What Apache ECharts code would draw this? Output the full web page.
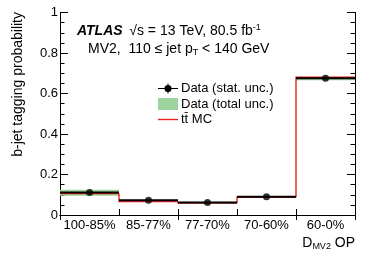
<!DOCTYPE html>
<html>
<head>
<meta charset="utf-8">
<script src="https://cdn.jsdelivr.net/npm/echarts@6/dist/echarts.min.js"></script>
<style>
html,body{margin:0;padding:0;background:#fff;}
#c{width:374px;height:256px;}
</style>
</head>
<body>
<div id="c"></div>
<script>
// ---- data ----
var categories = ['100-85%', '85-77%', '77-70%', '70-60%', '60-0%'];
var dataValues = [0.111, 0.073, 0.062, 0.090, 0.675];
var statErr = [0.003, 0.002, 0.002, 0.002, 0.004];
var totLow = [0.095, 0.068, 0.058, 0.086, 0.665];
var totHigh = [0.125, 0.075, 0.065, 0.093, 0.683];
var mcValues = [0.106, 0.067, 0.059, 0.088, 0.680];
var yTicks = [0, 0.2, 0.4, 0.6, 0.8, 1];

var FONT = '"Liberation Sans", Arial, Helvetica, sans-serif';
var chart = echarts.init(document.getElementById('c'), null, {renderer: 'canvas'});

var bandData = categories.map(function (c, i) { return [i, totLow[i], totHigh[i]]; });
var mcData = categories.map(function (c, i) { return [i, mcValues[i], i > 0 ? mcValues[i - 1] : mcValues[i]]; });
var barData = categories.map(function (c, i) { return [i, dataValues[i], dataValues[i] - statErr[i], dataValues[i] + statErr[i]]; });
var ptData = categories.map(function (c, i) { return [i, dataValues[i]]; });

var axisText = {color: '#000', fontFamily: FONT, fontSize: 13};

var option = {
  animation: false,
  backgroundColor: '#fff',
  grid: {left: 60, right: 19, top: 12.5, bottom: 41, containLabel: false},
  xAxis: [{
    type: 'category', data: categories, position: 'bottom', boundaryGap: true,
    axisLine: {show: true, lineStyle: {color: '#000', width: 1}},
    axisTick: {show: true, inside: true, length: 6, lineStyle: {color: '#000'}},
    axisLabel: Object.assign({margin: 4, interval: 0, hideOverlap: false}, axisText),
    splitLine: {show: false}
  }, {
    type: 'category', data: categories, position: 'top', boundaryGap: true,
    axisLine: {show: true, lineStyle: {color: '#000', width: 1}},
    axisTick: {show: true, inside: true, length: 5, lineStyle: {color: '#000'}},
    axisLabel: {show: false},
    splitLine: {show: false}
  }],
  yAxis: [{
    type: 'value', min: 0, max: 1, interval: 0.2, position: 'left',
    axisLine: {show: true, lineStyle: {color: '#000', width: 1}},
    axisTick: {show: true, inside: true, length: 8, lineStyle: {color: '#000'}},
    minorTick: {show: true, splitNumber: 4, length: 4.5, lineStyle: {color: '#000'}},
    axisLabel: Object.assign({margin: 2, formatter: function (v) {
      return (v === 0 || v === 1) ? String(v) : v.toFixed(1);
    }}, axisText),
    splitLine: {show: false}
  }, {
    type: 'value', min: 0, max: 1, interval: 0.2, position: 'right',
    axisLine: {show: true, lineStyle: {color: '#000', width: 1}},
    axisTick: {show: true, inside: true, length: 8, lineStyle: {color: '#000'}},
    minorTick: {show: true, splitNumber: 4, length: 4.5, lineStyle: {color: '#000'}},
    axisLabel: {show: false},
    splitLine: {show: false}
  }],
  legend: {
    orient: 'vertical', left: 153, top: 77, itemWidth: 20, itemHeight: 12, itemGap: 2.5,
    textStyle: {color: '#000', fontFamily: FONT, fontSize: 13, padding: [0, 0, 0, -2]},
    data: [
      {name: 'Data (stat. unc.)', icon: 'path://M0,5.5h20v1h-20z M9.5,1h1v10h-1z M13.5,6A3.5,3.5 0 1,1 6.5,6A3.5,3.5 0 1,1 13.5,6z', itemStyle: {color: '#000'}},
      {name: 'Data (total unc.)', icon: 'rect', itemStyle: {color: '#9dd49d'}},
      {name: 't\u0074\u0304 MC', icon: 'path://M0,0h20v1.4h-20z', itemStyle: {color: '#e8231e'}}
    ]
  },
  series: [{
    name: 'Data (total unc.)', type: 'custom', z: 1,
    data: bandData, encode: {x: 0, y: [1, 2]},
    itemStyle: {color: '#9dd49d'},
    renderItem: function (params, api) {
      var i = api.value(0);
      var w = api.size([1, 0])[0];
      var top = api.coord([i, api.value(2)]);
      var bot = api.coord([i, api.value(1)]);
      return {type: 'rect', shape: {x: top[0] - w / 2, y: top[1], width: w, height: bot[1] - top[1]},
        style: {fill: '#9dd49d'}};
    }
  }, {
    name: 't\u0074\u0304 MC', type: 'custom', z: 2,
    data: mcData, encode: {x: 0, y: 1},
    itemStyle: {color: '#e8231e'},
    renderItem: function (params, api) {
      var i = api.value(0);
      var w = api.size([1, 0])[0];
      var p = api.coord([i, api.value(1)]);
      var q = api.coord([i, api.value(2)]);
      return {type: 'polyline', shape: {points: [[p[0] - w / 2, q[1]], [p[0] - w / 2, p[1]], [p[0] + w / 2, p[1]]]},
        style: {stroke: '#e8231e', lineWidth: 1.4, fill: null}};
    }
  }, {
    name: 'Data (stat. unc.)', type: 'custom', z: 3,
    data: barData, encode: {x: 0, y: 1},
    itemStyle: {color: '#000'},
    renderItem: function (params, api) {
      var i = api.value(0);
      var w = api.size([1, 0])[0];
      var p = api.coord([i, api.value(1)]);
      var lo = api.coord([i, api.value(2)]);
      var hi = api.coord([i, api.value(3)]);
      return {type: 'group', children: [
        {type: 'line', shape: {x1: p[0] - w / 2, y1: p[1], x2: p[0] + w / 2, y2: p[1]}, style: {stroke: '#000', lineWidth: 2}},
        {type: 'line', shape: {x1: p[0], y1: lo[1], x2: p[0], y2: hi[1]}, style: {stroke: '#000', lineWidth: 1}}
      ]};
    }
  }, {
    name: 'Data (stat. unc.)', type: 'scatter', z: 4,
    data: ptData, symbol: 'circle', symbolSize: 7,
    itemStyle: {color: '#000'}
  }],
  graphic: [{
    type: 'text', x: 77, y: 31,
    style: {
      text: '{b|ATLAS}  {n|\u221As = 13 TeV, 80.5 fb}{s|-1}',
      textVerticalAlign: 'middle', textAlign: 'left',
      rich: {
        b: {fontFamily: FONT, fontSize: 14, fontWeight: 'bold', fontStyle: 'italic', fill: '#000', lineHeight: 16},
        n: {fontFamily: FONT, fontSize: 14, fill: '#000', lineHeight: 16},
        s: {fontFamily: FONT, fontSize: 9, fill: '#000', lineHeight: 9, verticalAlign: 'top'}
      }
    }
  }, {
    type: 'text', x: 88, y: 49.5,
    style: {
      text: '{n|MV2,  110 \u2264 jet p}{s|T}{n| < 140 GeV}',
      textVerticalAlign: 'middle', textAlign: 'left',
      rich: {
        n: {fontFamily: FONT, fontSize: 14, fill: '#000', lineHeight: 16},
        s: {fontFamily: FONT, fontSize: 9, fill: '#000', lineHeight: 6, verticalAlign: 'bottom'}
      }
    }
  }, {
    type: 'text', x: 355, y: 243,
    style: {
      text: '{n|D}{s|MV2}{n| OP}',
      textVerticalAlign: 'middle', textAlign: 'right',
      rich: {
        n: {fontFamily: FONT, fontSize: 14, fill: '#000', lineHeight: 16},
        s: {fontFamily: FONT, fontSize: 9, fill: '#000', lineHeight: 6, verticalAlign: 'bottom'}
      }
    }
  }, {
    type: 'text', x: 18, y: 12, rotation: Math.PI / 2,
    style: {
      text: 'b-jet tagging probability', fontFamily: FONT, fontSize: 14, fill: '#000',
      textAlign: 'right', textVerticalAlign: 'middle'
    }
  }]
};
chart.setOption(option);
</script>
</body>
</html>
